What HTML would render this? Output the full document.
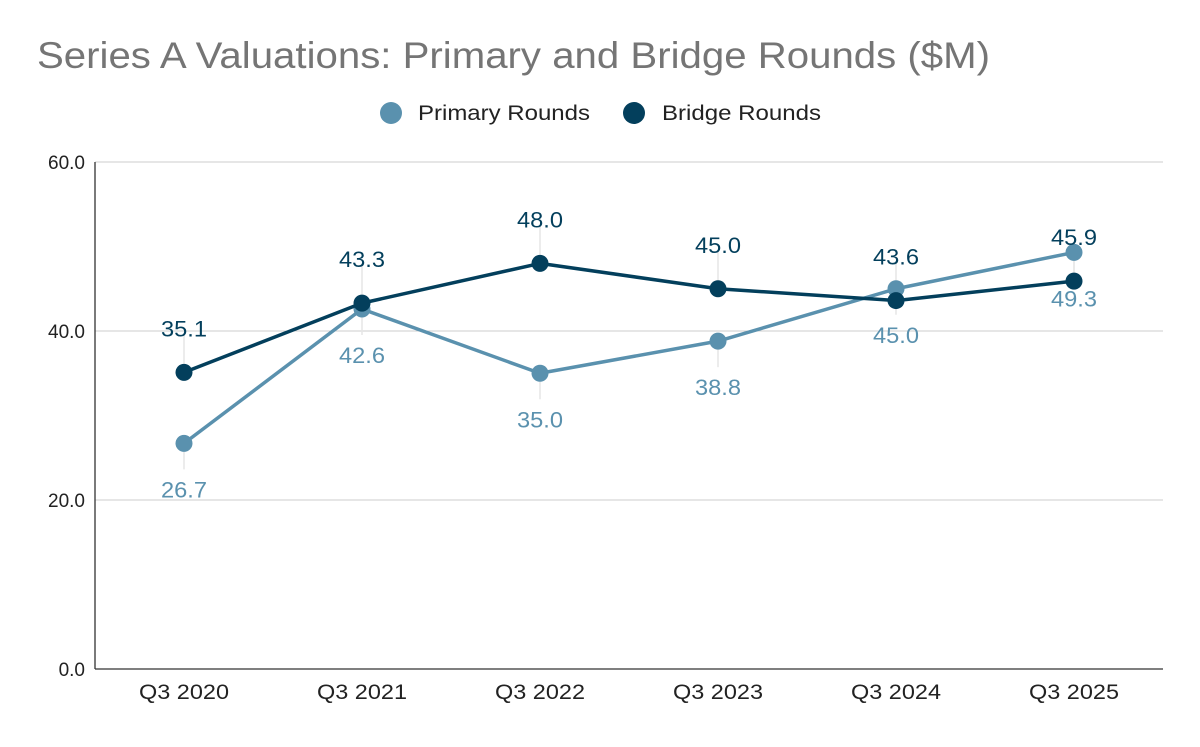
<!DOCTYPE html>
<html><head><meta charset="utf-8"><style>
body{margin:0;background:#fff;font-family:"Liberation Sans",Arial,sans-serif}
</style></head><body>
<svg width="1200" height="742" viewBox="0 0 1200 742" xmlns="http://www.w3.org/2000/svg">
<rect width="1200" height="742" fill="#fff"/>
<text x="37" y="68" font-size="37" textLength="953" lengthAdjust="spacingAndGlyphs" fill="#757575">Series A Valuations: Primary and Bridge Rounds ($M)</text>
<g id="legend">
<circle cx="391" cy="113" r="11" fill="#5a91ae"/>
<text x="418" y="120" font-size="21" textLength="172" lengthAdjust="spacingAndGlyphs" fill="#222">Primary Rounds</text>
<circle cx="634" cy="113" r="11" fill="#033f5c"/>
<text x="662" y="120" font-size="21" textLength="159" lengthAdjust="spacingAndGlyphs" fill="#222">Bridge Rounds</text>
</g>
<g id="grid"></g><g id="axes"></g><g id="series"></g><g id="labels"></g>
</svg>
<script>
const categories=["Q3 2020","Q3 2021","Q3 2022","Q3 2023","Q3 2024","Q3 2025"];
const primary=[26.7,42.6,35.0,38.8,45.0,49.3];
const bridge=[35.1,43.3,48.0,45.0,43.6,45.9];
const yTicks=[0,20,40,60];
const NS="http://www.w3.org/2000/svg";
const L=95,R=1163,T=162,B=669,yMax=60;
const step=(R-L)/categories.length;
const x=i=>L+step*(i+0.5);
const y=v=>B-(v/yMax)*(B-T);
function mk(tag,attrs,parent,txt){const e=document.createElementNS(NS,tag);for(const k in attrs)e.setAttribute(k,attrs[k]);if(txt!=null)e.textContent=txt;document.getElementById(parent).appendChild(e);return e;}
yTicks.forEach(t=>{
 if(t>0){const g=mk('line',{x1:L,x2:R,y1:y(t),y2:y(t),stroke:'#ccc','stroke-width':1},'grid');
 
 }
 const tl=mk('text',{x:L-10,y:y(t)+7,'font-size':19,'text-anchor':'end',fill:'#222'},'axes',t.toFixed(1));
 
 
});
const ya=mk('line',{x1:L,x2:L,y1:T,y2:B,stroke:'#333','stroke-width':1.3},'axes');


const xa=mk('line',{x1:L,x2:R,y1:B,y2:B,stroke:'#333','stroke-width':1.3},'axes');


categories.forEach((c,i)=>{
 const t=mk('text',{x:x(i),y:699,'font-size':21,'text-anchor':'middle',fill:'#222',textLength:90,lengthAdjust:'spacingAndGlyphs'},'axes',c);
 
 
});
function drawSeries(vals,color,name,above){
 vals.forEach((v,i)=>{
  const ly=above?y(v)-44:y(v)+46;
  const ld=mk('line',{x1:x(i),x2:x(i),y1:y(v),y2:above?ly+6:ly-20,stroke:'#e6e6e6','stroke-width':1.5},'grid');
  
  
  const lb=mk('text',{x:x(i),y:ly+8,'font-size':22,'text-anchor':'middle',fill:color,textLength:46,lengthAdjust:'spacingAndGlyphs'},'labels',v.toFixed(1));
  
  
 });
 const p=mk('polyline',{points:vals.map((v,i)=>x(i)+','+y(v)).join(' '),fill:'none',stroke:color,'stroke-width':3.5,'stroke-linejoin':'round'},'series');
 
 
 vals.forEach((v,i)=>{
  const c=mk('circle',{cx:x(i),cy:y(v),r:8.5,fill:color},'series');
  
  
 });
}
drawSeries(primary,'#5a91ae','primary',false);
drawSeries(bridge,'#033f5c','bridge',true);
</script>
</body></html>
